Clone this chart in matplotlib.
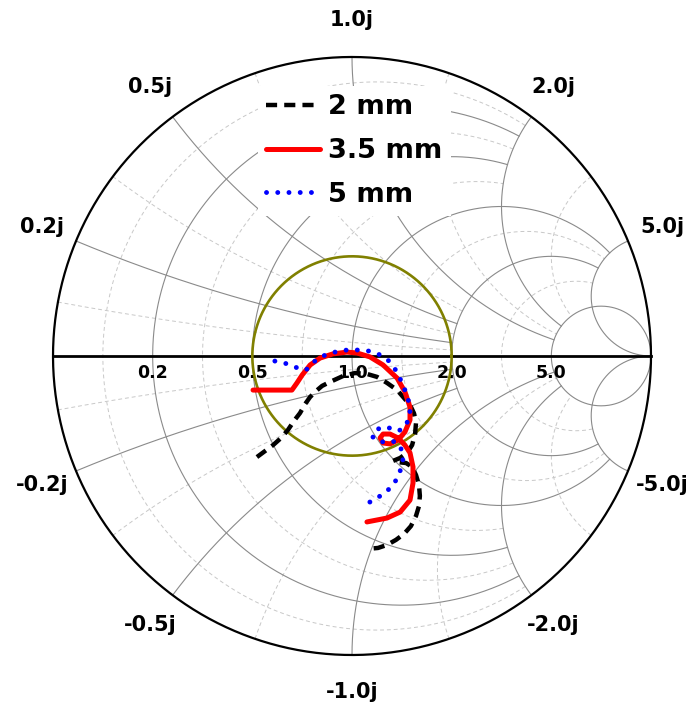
import numpy as np
import matplotlib
matplotlib.use('Agg')
import matplotlib.pyplot as plt
from matplotlib.lines import Line2D

# ---------------- data (reflection coefficient) ----------------
series_labels = ['2 mm', '3.5 mm', '5 mm']

g2_re = [-0.318, -0.291, -0.264, -0.237, -0.214, -0.194, -0.174, -0.157, -0.140, -0.120,
         -0.100, -0.074, -0.030, 0.010, 0.050, 0.084, 0.117, 0.151, 0.171, 0.194,
         0.207, 0.214, 0.211, 0.201, 0.184, 0.161, 0.137, 0.154, 0.181, 0.201,
         0.214, 0.224, 0.227, 0.224, 0.214, 0.197, 0.174, 0.147, 0.117, 0.087, 0.054]
g2_im = [-0.338, -0.318, -0.298, -0.274, -0.247, -0.217, -0.191, -0.161, -0.137, -0.117,
         -0.100, -0.087, -0.067, -0.057, -0.060, -0.070, -0.090, -0.114, -0.137, -0.164,
         -0.191, -0.224, -0.261, -0.298, -0.324, -0.341, -0.351, -0.355, -0.358, -0.371,
         -0.398, -0.431, -0.468, -0.502, -0.535, -0.569, -0.595, -0.615, -0.632, -0.642, -0.645]

g35_re = [-0.331, -0.274, -0.201, -0.184, -0.167, -0.140, -0.107, -0.064, -0.017, 0.017,
          0.060, 0.104, 0.151, 0.177, 0.194, 0.194, 0.177, 0.154, 0.127, 0.104,
          0.094, 0.104, 0.127, 0.154, 0.177, 0.194, 0.204, 0.204, 0.194, 0.161, 0.117, 0.050]
g35_im = [-0.114, -0.114, -0.114, -0.090, -0.064, -0.030, -0.007, 0.007, 0.013, 0.010,
          -0.003, -0.030, -0.074, -0.120, -0.171, -0.214, -0.254, -0.281, -0.294, -0.291,
          -0.274, -0.261, -0.261, -0.274, -0.298, -0.324, -0.371, -0.425, -0.482, -0.522,
          -0.542, -0.555]

g5_re = [-0.258, -0.227, -0.201, -0.174, -0.154, -0.140, -0.120, -0.090, -0.057, -0.017,
         0.020, 0.054, 0.087, 0.117, 0.137, 0.154, 0.167, 0.181, 0.191, 0.194,
         0.187, 0.174, 0.154, 0.134, 0.114, 0.094, 0.074, 0.070, 0.084, 0.107,
         0.134, 0.157, 0.167, 0.171, 0.167, 0.157, 0.144, 0.124, 0.100, 0.077, 0.054]
g5_im = [-0.017, -0.023, -0.033, -0.043, -0.047, -0.033, -0.013, 0.003, 0.013, 0.020,
         0.020, 0.017, 0.007, -0.010, -0.033, -0.060, -0.090, -0.124, -0.157, -0.191,
         -0.217, -0.241, -0.251, -0.244, -0.237, -0.241, -0.251, -0.271, -0.284, -0.288,
         -0.284, -0.294, -0.318, -0.341, -0.368, -0.395, -0.421, -0.445, -0.465, -0.478, -0.492]

major_vals = [0.2, 0.5, 1.0, 2.0, 5.0]
major_labels = ['0.2', '0.5', '1.0', '2.0', '5.0']
reactance_labels = ['0.2j', '0.5j', '1.0j', '2.0j', '5.0j']
minor_vals = [1 / 11, 1 / 3, 5 / 7, 1.4, 3.0]
vswr_radius = 1 / 3   # |Gamma| of the VSWR = 2 circle

# ---------------- figure ----------------
fig = plt.figure(figsize=(6.91, 7.04), dpi=100)
ax = fig.add_axes([0, 0, 1, 1])
ax.set_xlim(-1.1773, 1.1338)
ax.set_ylim(-1.1639, 1.1906)
ax.axis('off')


def gam(z):
    return (z - 1) / (z + 1)


def limit(v):
    if v < 0.999:
        return 2.0
    if v < 4.999:
        return 5.0
    return np.inf


def draw_grid(vals, **kw):
    for v in vals:
        lim = limit(v)
        tm = np.arctan(lim) if np.isfinite(lim) else np.pi / 2 - 1e-5
        # resistance circle, |x| <= lim
        t = np.linspace(-tm, tm, 800)
        g = gam(v + 1j * np.tan(t))
        ax.plot(g.real, g.imag, **kw)
        # reactance arcs, r <= lim
        t = np.linspace(0, tm, 800)
        for s in (1, -1):
            g = gam(np.tan(t) + 1j * s * v)
            ax.plot(g.real, g.imag, **kw)


draw_grid(minor_vals, color='#c8c8c8', lw=0.7, linestyle=(0, (4, 3)), zorder=1)
draw_grid(major_vals, color='#8a8a8a', lw=0.8, zorder=1.5)

th = np.linspace(0, 2 * np.pi, 800)
ax.plot(np.cos(th), np.sin(th), color='black', lw=1.6, zorder=2)
ax.plot([-1, 1], [0, 0], color='black', lw=2.0, zorder=2)

# real-axis labels
for v, lab in zip(major_vals, major_labels):
    gx = gam(v + 0j).real
    ax.text(gx, -0.057, lab, ha='center', va='center', fontsize=12.5,
            fontweight='bold', family='DejaVu Sans', zorder=2.2)

# reactance labels around the rim
for v, lab in zip(major_vals, reactance_labels):
    for s in (1, -1):
        ang = s * 2 * np.arctan(1 / v)
        txt = lab if s > 0 else '-' + lab
        ax.text(1.124 * np.cos(ang), 1.124 * np.sin(ang), txt, ha='center', va='center',
                fontsize=15, fontweight='bold', family='DejaVu Sans', zorder=2.2)

# VSWR circle
ax.plot(vswr_radius * np.cos(th), vswr_radius * np.sin(th), color='#808000', lw=1.9, zorder=3)

# curves
st2 = dict(color='black', lw=3.2, linestyle=(0, (2.5, 1.6)), dash_capstyle='butt')
st35 = dict(color='#ff0000', lw=3.6, solid_capstyle='round', solid_joinstyle='round')
st5 = dict(color='#0000ff', lw=3.5, linestyle=(0, (0.01, 2.3)), dash_capstyle='round')
ax.plot(g2_re, g2_im, zorder=4, **st2)
ax.plot(g35_re, g35_im, zorder=4.2, **st35)
ax.plot(g5_re, g5_im, zorder=4.4, **st5)

handles = [Line2D([], [], **st2), Line2D([], [], **st35), Line2D([], [], **st5)]
leg = ax.legend(handles, series_labels, loc='upper left',
                bbox_to_anchor=(258 / 691, 1 - 86 / 704), bbox_transform=fig.transFigure,
                prop=dict(family='DejaVu Sans', weight='bold', size=19.5),
                handlelength=2.0, handletextpad=0.3, labelspacing=0.66,
                borderpad=0.3, borderaxespad=0, frameon=True, fancybox=False)
leg.get_frame().set_facecolor('white')
leg.get_frame().set_edgecolor('none')
leg.get_frame().set_alpha(1)
leg.set_zorder(6)

fig.savefig('out.png', dpi=100, facecolor='white')
